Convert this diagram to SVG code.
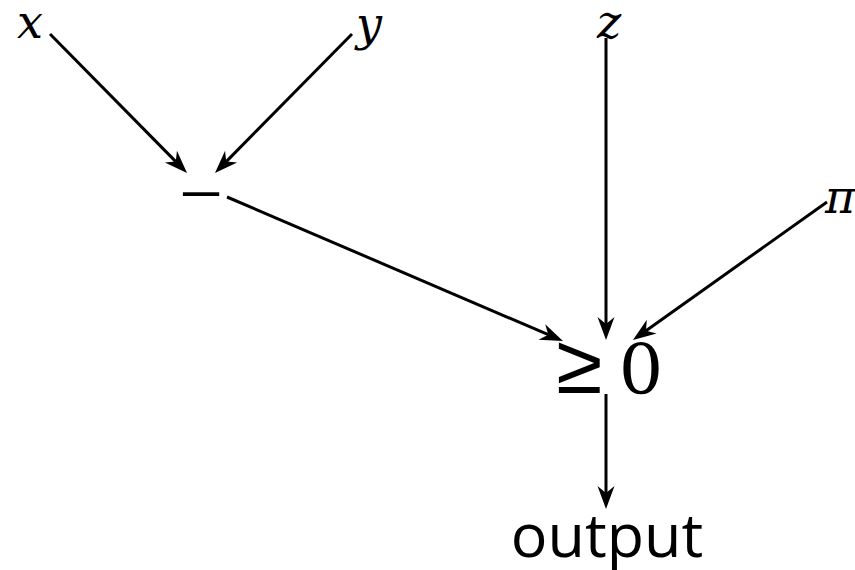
<svg xmlns="http://www.w3.org/2000/svg" width="855" height="570" viewBox="0 0 855 570">
<style>
.m{font-family:"DejaVu Serif",serif;font-style:italic;font-size:46px;fill:#000;text-anchor:middle}
.r{font-family:"Liberation Serif","DejaVu Serif",serif;font-size:78px;fill:#000;text-anchor:middle}
.g{font-family:"Liberation Sans",Arial,sans-serif;font-size:84px;fill:#000;text-anchor:middle}
.z{font-family:"DejaVu Serif",serif;font-size:70px;fill:#000;text-anchor:middle}
.s{font-family:"Open Sans","Noto Sans",sans-serif;font-size:61px;fill:#000;text-anchor:middle}
.c line{stroke:#000;stroke-width:3;fill:none;marker-end:url(#ah)}
</style>
<defs>
<marker id="ah" markerUnits="userSpaceOnUse" orient="auto" refX="0" refY="0" markerWidth="40" markerHeight="40" overflow="visible">
<path d="M16,0 L-7,-8.5 L0,0 L-7,8.5 Z" fill="#000"/>
</marker>
</defs>
<g id="node-x"><text class="m" x="30" y="38">x</text></g>
<g id="node-y"><text class="m" x="369" y="40">y</text></g>
<g id="node-z"><text class="m" x="609" y="38">z</text></g>
<g id="node-pi"><text class="m" x="840" y="213">π</text></g>
<g id="node-minus"><text class="r" x="201" y="220">−</text></g>
<g id="node-geq"><text class="g" x="579" y="393">≥</text><text class="z" x="641" y="394">0</text></g>
<g id="node-output"><text class="s" x="607" y="557">output</text></g>
<g class="c" id="connectors">
<line x1="50" y1="34" x2="175.8" y2="161.6"/>
<line x1="352" y1="34" x2="226.2" y2="161.6"/>
<line x1="227" y1="197" x2="548.3" y2="334.7"/>
<line x1="606" y1="38" x2="606" y2="324"/>
<line x1="827" y1="202" x2="646" y2="330.7"/>
<line x1="606" y1="394" x2="606" y2="493"/>
</g>
</svg>
